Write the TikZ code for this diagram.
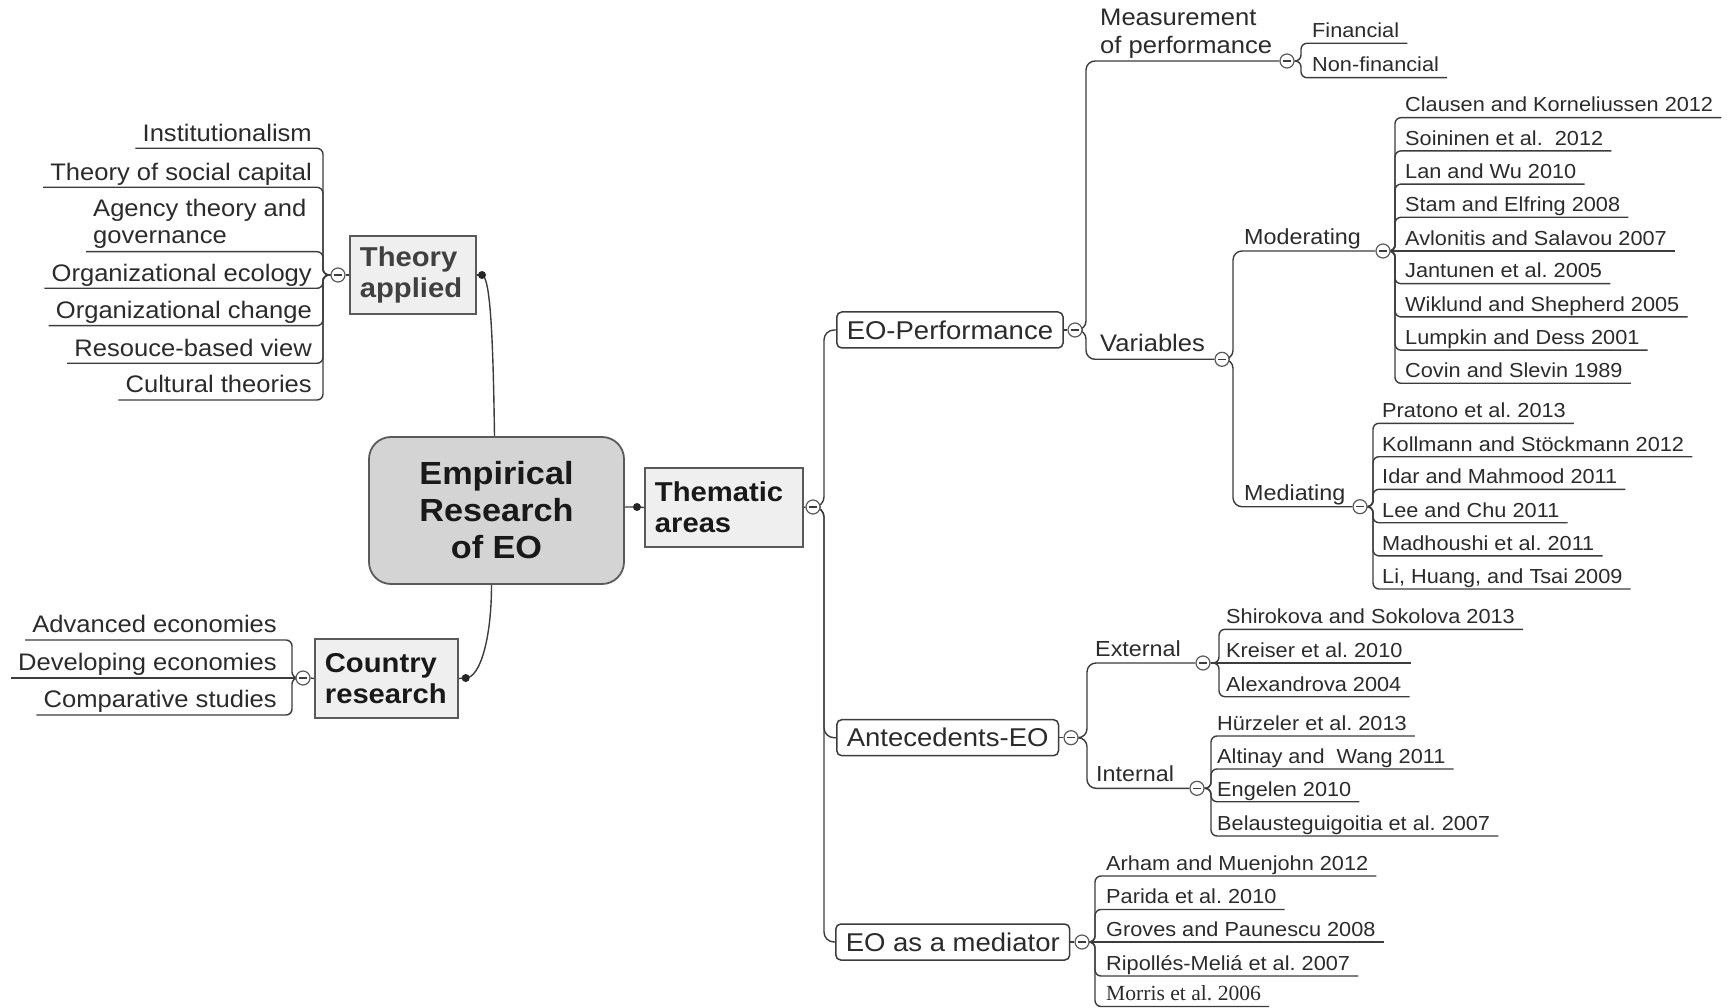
\documentclass[tikz,border=0pt]{standalone}
\usepackage{fontspec}
\setmainfont{Liberation Sans}[FakeStretch=1.07]
\newfontfamily\refserif{Liberation Serif}
\usetikzlibrary{backgrounds}
\definecolor{ink}{HTML}{2B2B2B}
\definecolor{linecol}{HTML}{3C3C3C}
\definecolor{boxedge}{HTML}{5A5A5A}
\definecolor{boxfill}{HTML}{EFEFEF}
\definecolor{corefill}{HTML}{D4D4D4}
\newcommand\fsRef{\fontsize{20.3}{24}\selectfont}
\newcommand\fsLab{\fontsize{21.8}{26}\selectfont}
\newcommand\fsBig{\fontsize{23.9}{27.5}\selectfont}
\newcommand\fsBox{\fontsize{25.7}{30}\selectfont}
\newcommand\fsBold{\bfseries\fontsize{27.3}{31}\selectfont}
\newcommand\fsCen{\bfseries\fontsize{32}{37}\selectfont}
\frenchspacing
\begin{document}
\begin{tikzpicture}[x=1pt,y=-1pt,
  core/.style={draw=boxedge, line width=1.8pt, fill=corefill, rounded corners=22pt,
    minimum width=255pt, minimum height=147pt, align=center, font=\fsCen,
    text=black!90, inner sep=0pt},
  branch/.style={draw=boxedge, line width=1.8pt, fill=boxfill, align=left,
    font=\fsBold, text=black!90, inner xsep=10pt, inner ysep=0pt,
    minimum height=79pt, anchor=west},
  topic/.style={draw=linecol, line width=1.5pt, fill=white, rounded corners=5pt,
    font=\fsBox, text=ink, inner xsep=10pt, inner ysep=0pt,
    minimum height=36pt, anchor=west},
  leaf/.style={font=\fsRef, text=ink, inner xsep=8pt, inner ysep=0pt,
    text height=15pt, text depth=5.5pt, anchor=south west},
  sub/.style={font=\fsLab, text=ink, inner xsep=6pt, inner ysep=0pt,
    text depth=6.5pt, anchor=south west},
  subbig/.style={font=\fsBig, text=ink, inner xsep=6pt, inner ysep=0pt,
    text depth=7.5pt, anchor=south west, align=left},
  lleaf/.style={font=\fsBig, text=ink, inner xsep=7pt, inner ysep=0pt,
    text depth=7pt, anchor=south east},
  toggle/.style={circle, draw=boxedge, fill=white, line width=1.2pt,
    minimum size=14pt, inner sep=0pt,
    path picture={\draw[line width=1.3pt, linecol]
      ([xshift=-4pt]path picture bounding box.center) --
      ([xshift=4pt]path picture bounding box.center);}},
  knob/.style={circle, fill=black!85, minimum size=8pt, inner sep=0pt},
  trunk/.style={draw=linecol, line width=1.4pt, rounded corners=6pt},
  linkc/.style={draw=linecol, line width=1.4pt}
]
\useasboundingbox (0,0) rectangle (1733,1008);

% ---------- central topic and main branches ----------
\node[core] (cen) at (496.5,510.5) {Empirical\\Research\\of EO};
\node[branch, text width=106pt, text=black!75, minimum height=78pt] (th) at (349,275) {Theory\\applied};
\node[branch, text width=123pt] (co) at (314,678.5) {Country\\research};
\node[branch, text width=138pt] (tm) at (644,507.5) {Thematic\\areas};
\node[knob] (thd) at (482,275) {};
\node[knob] (cod) at (465.7,678) {};
\node[knob] (tmd) at (637,507) {};
\node[toggle] (thc) at (338,275) {};
\node[toggle] (coc) at (303,678) {};
\node[toggle] (tmc) at (813,507) {};

% ---------- theories ----------
\node[lleaf] (t1) at (319,148.3) {Institutionalism};
\node[lleaf] (t2) at (319,187.3) {Theory of social capital};
\node[lleaf, anchor=south west, align=left, text depth=7.5pt] (t3) at (86,251.7) {Agency theory and\\governance};
\node[lleaf] (t4) at (319,288.3) {Organizational ecology};
\node[lleaf] (t5) at (319,325.7) {Organizational change};
\node[lleaf] (t6) at (319,363.3) {Resouce-based view};
\node[lleaf] (t7) at (319,400) {Cultural theories};

% ---------- country research ----------
\node[lleaf] (c1) at (284,640) {Advanced economies};
\node[lleaf] (c2) at (284,678) {Developing economies};
\node[lleaf] (c3) at (284,715) {Comparative studies};

% ---------- thematic areas ----------
\node[topic] (eop) at (836,330) {EO-Performance};
\node[topic] (ant) at (836,737.7) {Antecedents-EO};
\node[topic] (eom) at (835,942) {EO as a mediator};
\node[toggle] (eopc) at (1075,330) {};
\node[toggle] (antc) at (1071,737.7) {};
\node[toggle] (eomc) at (1082,942) {};

% EO-Performance
\node[subbig] (mp) at (1094,61) {Measurement\\of performance};
\node[subbig] (va) at (1094,359.3) {Variables};
\node[toggle] (mpc) at (1287,61) {};
\node[toggle] (vac) at (1222,359.3) {};
\node[leaf] (fin) at (1304,43.3) {Financial};
\node[leaf] (nfin) at (1304,77.7) {Non-financial};
\node[sub] (mo) at (1238,251) {Moderating};
\node[sub] (me) at (1238,506.7) {Mediating};
\node[toggle] (moc) at (1383,251) {};
\node[toggle] (mec) at (1360,506.7) {};

% moderating studies
\foreach \n/\y/\t in {m1/117.7/{Clausen and Korneliussen 2012},
    m2/150.9/{Soininen et al.\ \ 2012},
    m3/184.1/{Lan and Wu 2010},
    m4/217.3/{Stam and Elfring 2008},
    m6/283.7/{Jantunen et al. 2005},
    m7/316.9/{Wiklund and Shepherd 2005},
    m8/350.1/{Lumpkin and Dess 2001},
    m9/383.3/{Covin and Slevin 1989}}{
  \node[leaf] (\n) at (1397,\y) {\t};
  \begin{scope}[on background layer]
    \draw[trunk] (moc.east) -- (1395,251) |- (\n.south east);
  \end{scope}
}
\node[leaf] (m5) at (1397,251) {Avlonitis and Salavou 2007};

% mediating studies
\foreach \n/\y/\t in {d1/423.3/{Pratono et al. 2013},
    d2/456.7/{Kollmann and Stöckmann 2012},
    d3/489.3/{Idar and Mahmood 2011},
    d4/522.7/{Lee and Chu 2011},
    d5/555.9/{Madhoushi et al. 2011},
    d6/589/{Li, Huang, and Tsai 2009}}{
  \node[leaf] (\n) at (1374,\y) {\t};
  \begin{scope}[on background layer]
    \draw[trunk] (mec.east) -- (1373,506.7) |- (\n.south east);
  \end{scope}
}

% Antecedents-EO
\node[sub] (ex) at (1089,663) {External};
\node[sub] (in) at (1090,788.3) {Internal};
\node[toggle] (exc) at (1203,663) {};
\node[toggle] (inc) at (1197,788.3) {};
\foreach \n/\y/\t in {e1/629.3/{Shirokova and Sokolova 2013},
    e3/696.7/{Alexandrova 2004}}{
  \node[leaf] (\n) at (1218,\y) {\t};
  \begin{scope}[on background layer]
    \draw[trunk] (exc.east) -- (1219,663) |- (\n.south east);
  \end{scope}
}
\node[leaf] (e2) at (1218,663) {Kreiser et al. 2010};
\foreach \n/\y/\t in {i1/736/{Hürzeler et al. 2013},
    i2/769/{Altinay and\ \ Wang 2011},
    i3/801.7/{Engelen 2010},
    i4/836/{Belausteguigoitia et al. 2007}}{
  \node[leaf] (\n) at (1209,\y) {\t};
  \begin{scope}[on background layer]
    \draw[trunk] (inc.east) -- (1211,788.3) |- (\n.south east);
  \end{scope}
}

% EO as a mediator
\foreach \n/\y/\t in {r1/876/{Arham and Muenjohn 2012},
    r2/909.5/{Parida et al. 2010},
    r4/976/{Ripollés-Meliá et al. 2007}}{
  \node[leaf] (\n) at (1098,\y) {\t};
  \begin{scope}[on background layer]
    \draw[trunk] (eomc.east) -- (1095,942) |- (\n.south east);
  \end{scope}
}
\node[leaf] (r3) at (1098,942) {Groves and Paunescu 2008};
\node[leaf, font=\refserif\fontsize{21.6}{24}\selectfont] (r5) at (1098,1006.5) {Morris et al. 2006};

% ---------- connectors ----------
\begin{scope}[on background layer]
  % central topic to main branches
  \draw[linkc] (thd.center) .. controls (490,277) and (493,330) .. ([xshift=-2pt]cen.north);
  \draw[linkc] ([xshift=-5pt]cen.south) .. controls +(0,55) and +(14,0) .. (cod.center);
  \draw[linkc] (tmd.center -| cen.east) -- (tmd.center) -- (tm.west);
  \draw[linkc] (th.east) -- (thd.center);
  \draw[linkc] (co.east) -- (cod.center);
  \draw[linkc] (thc.east) -- (th.west);
  \draw[linkc] (coc.east) -- (co.west);
  \draw[linkc] (tm.east) -- (tmc.west);
  % theories
  \foreach \n in {t1,t2,t4,t5,t6,t7}
    \draw[trunk] (thc.west) -- (323,275) |- (\n.south west);
  \draw[trunk] (thc.west) -- (323,275) |- (t3.south west);
  % countries
  \draw[trunk] (coc.west) -- (292,678) |- (c1.south west);
  \draw[trunk] (coc.west) -- (292,678) |- (c3.south west);
  \draw[linkc] (coc.west) -- (c2.south west);
  % thematic areas
  \foreach \n in {eop,ant,eom}
    \draw[trunk, rounded corners=10pt] (tmc.east) -- (824,507) |- (\n.west);
  \draw[linkc] (eop.east) -- (eopc.west);
  \draw[linkc] (ant.east) -- (antc.west);
  \draw[linkc] (eom.east) -- (eomc.west);
  % EO-Performance
  \draw[trunk, rounded corners=9pt] (eopc.east) -- (1086,330) |- (mpc.west);
  \draw[trunk, rounded corners=9pt] (eopc.east) -- (1086,330) |- (vac.west);
  \draw[trunk] (mpc.east) -- (1301,61) |- (fin.south east);
  \draw[trunk] (mpc.east) -- (1301,61) |- (nfin.south east);
  \draw[trunk, rounded corners=9pt] (vac.east) -- (1233,359.3) |- (moc.west);
  \draw[trunk, rounded corners=9pt] (vac.east) -- (1233,359.3) |- (mec.west);
  \draw[linkc] (moc.east) -- (m5.south east);
  % Antecedents-EO
  \draw[trunk, rounded corners=9pt] (antc.east) -- (1087,737.7) |- (exc.west);
  \draw[trunk, rounded corners=9pt] (antc.east) -- (1087,737.7) |- (inc.west);
  \draw[linkc] (exc.east) -- (e2.south east);
  % EO as a mediator
  \draw[linkc] (eomc.east) -- (r3.south east);
  \draw[trunk] (eomc.east) -- (1095,942) |- (r5.south east);
\end{scope}
\end{tikzpicture}
\end{document}
